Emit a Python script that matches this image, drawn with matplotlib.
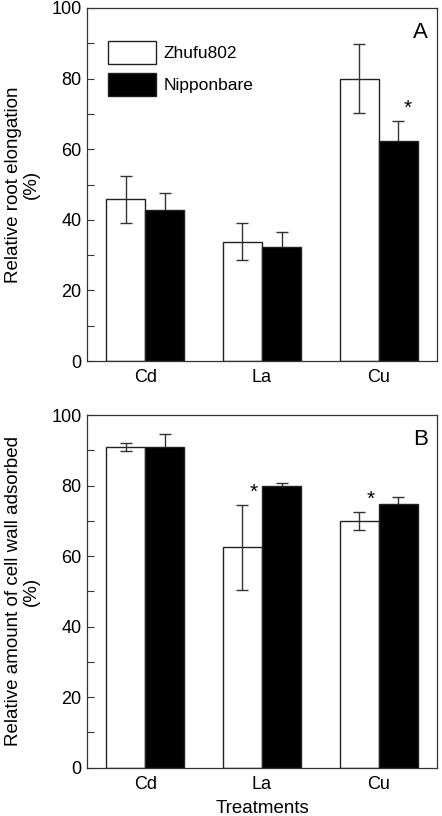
import matplotlib
matplotlib.use("Agg")
import matplotlib.pyplot as plt
import numpy as np
from matplotlib.ticker import MultipleLocator

plt.rcParams['font.family'] = ['Liberation Sans', 'DejaVu Sans']

categories = ["Cd", "La", "Cu"]
series_names = ["Zhufu802", "Nipponbare"]

root_zhufu = [45.8, 33.8, 80.0]
root_zhufu_err = [6.7, 5.3, 9.7]
root_nippon = [42.7, 32.2, 62.2]
root_nippon_err = [4.9, 4.4, 5.7]

wall_zhufu = [90.9, 62.5, 70.0]
wall_zhufu_err = [1.2, 12.1, 2.6]
wall_nippon = [91.0, 80.0, 74.7]
wall_nippon_err = [3.5, 0.8, 2.1]

# significance stars: (category index, bar index, y)
stars_A = [(2, 1, 71.5)]
stars_B = [(1, 0, 78.0), (2, 0, 76.0)]

fig = plt.figure(figsize=(4.42, 8.16), dpi=100)
W, H = 442, 816
axA = fig.add_axes([87 / W, 1 - 361 / H, 350 / W, 353 / H])
axB = fig.add_axes([87 / W, 1 - 767.7 / H, 350 / W, 352.7 / H])

x = np.arange(len(categories))
bw = 0.335
edge = '#222222'

def draw(ax, z, ze, n, ne, stars, letter):
    ax.bar(x - bw / 2, z, bw, color='white', edgecolor=edge, linewidth=1.0,
           label=series_names[0], zorder=2)
    ax.bar(x + bw / 2, n, bw, color='black', edgecolor=edge, linewidth=1.0,
           label=series_names[1], zorder=2)
    ax.errorbar(x - bw / 2, z, yerr=ze, fmt='none', ecolor='#333333',
                elinewidth=1.0, capsize=4.5, capthick=1.0, zorder=3)
    ax.errorbar(x + bw / 2, n, yerr=ne, fmt='none', ecolor='#333333',
                elinewidth=1.0, capsize=4.5, capthick=1.0, zorder=1)
    for ci, bi, yv in stars:
        xs = x[ci] + bw / 2 + 0.08 if bi == 1 else x[ci] - bw / 2 + 0.1
        ax.text(xs, yv, '*', ha='center', va='center', fontsize=15)
    ax.set_xlim(-0.5, 2.5)
    ax.set_ylim(0, 100)
    ax.yaxis.set_major_locator(MultipleLocator(20))
    ax.yaxis.set_minor_locator(MultipleLocator(10))
    ax.tick_params(axis='y', which='both', direction='in', labelsize=13,
                   length=5, width=0.8, color='#333333', pad=4)
    ax.tick_params(axis='x', length=0, labelsize=13, pad=6)
    ax.set_xticks(x)
    ax.set_xticklabels(categories)
    for s in ax.spines.values():
        s.set_linewidth(0.9)
        s.set_color('#333333')
    ax.text(0.975, 0.96, letter, transform=ax.transAxes, ha='right', va='top',
            fontsize=16)

draw(axA, root_zhufu, root_zhufu_err, root_nippon, root_nippon_err,
     stars_A, 'A')
draw(axB, wall_zhufu, wall_zhufu_err, wall_nippon, wall_nippon_err,
     stars_B, 'B')

axA.set_ylabel('Relative root elongation\n(%)', fontsize=13.5, labelpad=8,
               linespacing=1.05)
axB.set_ylabel('Relative amount of cell wall adsorbed\n(%)', fontsize=13.5,
               labelpad=8, linespacing=1.05)
axB.set_xlabel('Treatments', fontsize=13.5, labelpad=5)

leg = axA.legend(loc='upper left', bbox_to_anchor=(0.04, 0.927), frameon=False,
                 fontsize=12.5, handlelength=2.76, handleheight=1.7,
                 handletextpad=0.45, labelspacing=0.5, borderaxespad=0)

fig.savefig('out.png', dpi=100)
